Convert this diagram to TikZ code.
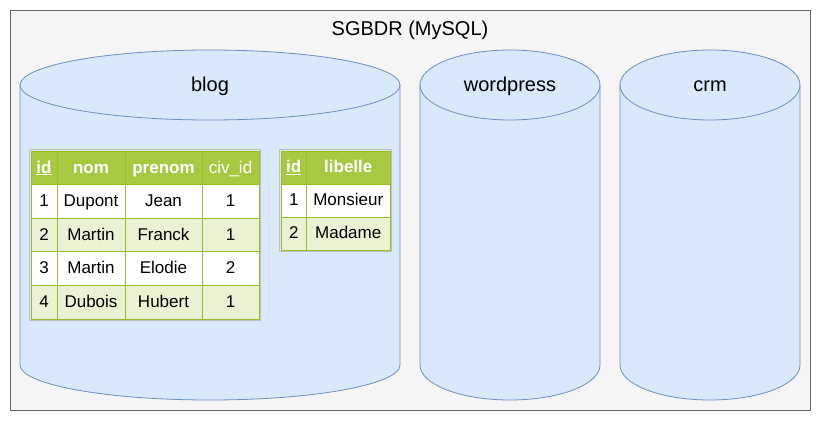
\documentclass[tikz,border=0pt]{standalone}
\usepackage{fontspec}
\setmainfont{Liberation Sans}

\definecolor{boxfill}{HTML}{F5F5F5}
\definecolor{boxline}{HTML}{666666}
\definecolor{dbfill}{HTML}{DAE8FC}
\definecolor{dbline}{HTML}{6C8EBF}
\definecolor{hdfill}{HTML}{A7C942}
\definecolor{tbline}{HTML}{98BF21}
\definecolor{rowalt}{HTML}{EAF2D3}

\begin{document}
\begin{tikzpicture}[x=1pt,y=-1pt,
    db/.style={fill=dbfill,draw=dbline,line width=0.8pt},
    bigtext/.style={font=\fontsize{20}{24}\selectfont},
    cell/.style={draw=tbline,line width=0.8pt,inner sep=0pt,text height=13pt,text depth=2.5pt,
        font=\fontsize{17}{20}\selectfont},
    head/.style={cell,fill=hdfill,text=white,font=\fontsize{17}{20}\selectfont\bfseries}]
    \useasboundingbox (0,0) rectangle (821,421);

    % serveur
    \draw[fill=boxfill,draw=boxline,line width=0.8pt] (10,10) rectangle (810,410);
    \node[bigtext] (sgbdr) at (410,30) {SGBDR (MySQL)};

    % bases
    \foreach \a/\r/\base in {20/190/blog,420/90/wordpress,620/90/crm}{
        \draw[db] (\a,85) -- (\a,365) arc[start angle=180,end angle=0,x radius=\r,y radius=35]
            -- (\a+2*\r,85) arc[start angle=0,end angle=-180,x radius=\r,y radius=35] -- cycle;
        \draw[db,fill=none] (\a,85) arc[start angle=180,end angle=0,x radius=\r,y radius=35];
        \node[bigtext] (\base) at (\a+\r,86) {\base};
    }

    % table des personnes
    \node[head,minimum width=26pt,minimum height=33.6pt] (pers-0-1) at (44,167.8) {\underline{id}};
    \node[head,minimum width=68pt,minimum height=33.6pt] (pers-0-2) at (91,167.8) {nom};
    \node[head,minimum width=77pt,minimum height=33.6pt] (pers-0-3) at (163.5,167.8) {prenom};
    \node[head,minimum width=57pt,minimum height=33.6pt,font=\fontsize{17}{20}\selectfont] (pers-0-4) at (230.5,167.8) {civ\_id};
    \foreach \r/\bg/\id/\nom/\prenom/\civ in {1/white/1/Dupont/Jean/1,2/rowalt/2/Martin/Franck/1,
                                             3/white/3/Martin/Elodie/2,4/rowalt/4/Dubois/Hubert/1}{
        \pgfmathsetmacro\yc{167.8+33.6*\r}
        \node[cell,fill=\bg,minimum width=26pt,minimum height=33.6pt] (pers-\r-1) at (44,\yc) {\id};
        \node[cell,fill=\bg,minimum width=68pt,minimum height=33.6pt] (pers-\r-2) at (91,\yc) {\nom};
        \node[cell,fill=\bg,minimum width=77pt,minimum height=33.6pt] (pers-\r-3) at (163.5,\yc) {\prenom};
        \node[cell,fill=\bg,minimum width=57pt,minimum height=33.6pt] (pers-\r-4) at (230.5,\yc) {\civ};
    }
    \draw[black!25] ([xshift=-1pt,yshift=1pt]pers-0-1.north west) rectangle ([xshift=1pt,yshift=-1pt]pers-4-4.south east);

    % table des civilites
    \node[head,minimum width=25.5pt,minimum height=33pt] (civ-0-1) at (293.75,167.5) {\underline{id}};
    \node[head,minimum width=83.5pt,minimum height=33pt] (civ-0-2) at (348.25,167.5) {libelle};
    \foreach \r/\bg/\id/\lib in {1/white/1/Monsieur,2/rowalt/2/Madame}{
        \pgfmathsetmacro\yc{167.5+33*\r}
        \node[cell,fill=\bg,minimum width=25.5pt,minimum height=33pt] (civ-\r-1) at (293.75,\yc) {\id};
        \node[cell,fill=\bg,minimum width=83.5pt,minimum height=33pt] (civ-\r-2) at (348.25,\yc) {\lib};
    }
    \draw[black!25] ([xshift=-1pt,yshift=1pt]civ-0-1.north west) rectangle ([xshift=1pt,yshift=-1pt]civ-2-2.south east);
\end{tikzpicture}
\end{document}
